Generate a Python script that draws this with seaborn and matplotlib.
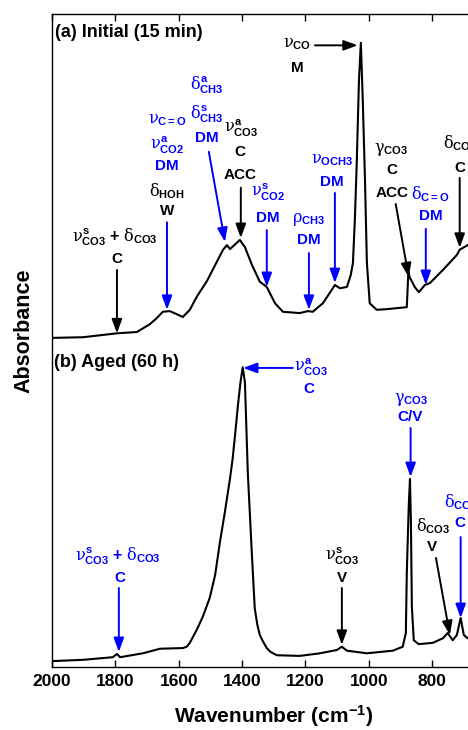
import matplotlib
matplotlib.use("Agg")
import matplotlib.pyplot as plt
import pandas as pd
import seaborn as sns

# ---- spectra (wavenumber in cm-1, absorbance in arbitrary units) ----
wavenumber_a = [2000, 1902, 1795, 1732, 1691, 1670, 1650, 1628, 1605, 1587,
                1565, 1543, 1511, 1460, 1448, 1438, 1407, 1391, 1369, 1344,
                1322, 1296, 1271, 1218, 1192, 1177, 1145, 1123, 1107, 1091,
                1069, 1057, 1050, 1044, 1038, 1031, 1025, 1019, 1012, 1006,
                997, 975, 943, 902, 880, 875, 871, 855, 842, 823,
                807, 766, 722, 713, 688, 650, 600]
absorbance_a = [0.014, 0.015, 0.021, 0.023, 0.035, 0.044, 0.054, 0.055, 0.050, 0.046,
                0.057, 0.077, 0.101, 0.149, 0.156, 0.150, 0.164, 0.153, 0.126, 0.100,
                0.092, 0.067, 0.054, 0.052, 0.055, 0.054, 0.067, 0.083, 0.095, 0.090,
                0.092, 0.110, 0.129, 0.195, 0.282, 0.409, 0.466, 0.378, 0.256, 0.129,
                0.067, 0.057, 0.058, 0.060, 0.061, 0.115, 0.107, 0.092, 0.084, 0.095,
                0.098, 0.118, 0.141, 0.149, 0.156, 0.165, 0.172]

wavenumber_b = [2000, 1902, 1808, 1795, 1785, 1713, 1659, 1587, 1575, 1565,
                1543, 1524, 1502, 1485, 1470, 1455, 1438, 1430, 1423, 1413,
                1405, 1398, 1391, 1382, 1369, 1360, 1352, 1344, 1335, 1322,
                1310, 1290, 1218, 1154, 1101, 1085, 1069, 1006, 924, 893,
                883, 880, 874, 870, 867, 864, 858, 848, 842, 798,
                766, 751, 735, 722, 710, 700, 688, 650, 600]
absorbance_b = [0.009, 0.011, 0.015, 0.020, 0.015, 0.021, 0.028, 0.029, 0.031, 0.037,
                0.057, 0.077, 0.106, 0.141, 0.191, 0.235, 0.289, 0.318, 0.351, 0.401,
                0.436, 0.459, 0.436, 0.299, 0.172, 0.090, 0.065, 0.049, 0.040, 0.029,
                0.023, 0.018, 0.017, 0.021, 0.026, 0.031, 0.025, 0.021, 0.025, 0.031,
                0.052, 0.144, 0.245, 0.288, 0.221, 0.092, 0.041, 0.037, 0.035, 0.037,
                0.044, 0.052, 0.041, 0.049, 0.075, 0.049, 0.044, 0.045, 0.045]

panel_titles = ["(a) Initial (15 min)", "(b) Aged (60 h)"]
x_ticks = [2000, 1800, 1600, 1400, 1200, 1000, 800]

# vertical shift that stacks spectrum (a) above spectrum (b)
OFFSET_A = 0.49

K = "black"
B = "#0000ff"

sns.set_style("ticks")
plt.rcParams.update({
    "font.family": ["Liberation Sans", "DejaVu Sans"],
    "font.weight": "bold",
    "mathtext.fontset": "custom",
    "mathtext.rm": "Liberation Sans:weight=normal",
    "mathtext.bf": "Liberation Sans:weight=bold",
    "mathtext.it": "DejaVu Serif:weight=normal",
    "axes.linewidth": 1.0,
    "axes.edgecolor": "black",
    "text.color": "black",
    "axes.labelcolor": "black",
    "xtick.color": "black",
    "ytick.color": "black",
})

df = pd.concat([
    pd.DataFrame({"wavenumber": wavenumber_a,
                  "signal": [v + OFFSET_A for v in absorbance_a],
                  "panel": "a"}),
    pd.DataFrame({"wavenumber": wavenumber_b,
                  "signal": absorbance_b,
                  "panel": "b"}),
], ignore_index=True)

fig = plt.figure(figsize=(4.68, 7.30), dpi=100)
# the frame runs past the right edge of the figure
ax = fig.add_axes([52 / 468, 1 - 667 / 730, 443.5 / 468, 653 / 730])

sns.lineplot(data=df, x="wavenumber", y="signal", units="panel",
             estimator=None, color="black", lw=1.5, legend=False, ax=ax)

ax.set_xlim(2000, 600)
ax.set_ylim(0, 1)
ax.set_xticks(x_ticks)
ax.set_xticklabels([str(t) for t in x_ticks])
ax.set_yticks([])
ax.tick_params(axis="x", direction="in", top=True, bottom=True,
               length=5, width=1, labelsize=12.5, pad=5)
for lab in ax.get_xticklabels():
    lab.set_fontweight("bold")
ax.set_xlabel("Wavenumber (cm$^{\\mathbf{-1}}$)", fontsize=15,
              fontweight="bold", labelpad=10)
ax.set_ylabel("")
fig.text(24 / 468, 1 - 331 / 730, "Absorbance", rotation=90,
         ha="center", va="center", fontsize=15.5, fontweight="bold")

ax.text(1991, 0.971, panel_titles[0], ha="left", va="center",
        fontsize=13, fontweight="bold")
ax.text(1994, 0.467, panel_titles[1], ha="left", va="center",
        fontsize=13, fontweight="bold")

# band assignments: (text, x, y, colour, horizontal alignment)
labels = [
    # (a)
    (r"$\nu_{\mathbf{CO}}$", 1227, 0.954, K, "center"),
    ("M", 1227, 0.918, K, "center"),
    (r"$\delta^{\mathbf{a}}_{\mathbf{CH3}}$", 1511, 0.891, B, "center"),
    (r"$\delta^{\mathbf{s}}_{\mathbf{CH3}}$", 1511, 0.847, B, "center"),
    ("DM", 1511, 0.810, B, "center"),
    (r"$\nu^{\mathbf{a}}_{\mathbf{CO3}}$", 1403, 0.825, K, "center"),
    ("C", 1407, 0.789, K, "center"),
    ("ACC", 1407, 0.753, K, "center"),
    (r"$\nu_{\mathbf{C{=}O}}$", 1637, 0.838, B, "center"),
    (r"$\nu^{\mathbf{a}}_{\mathbf{CO2}}$", 1637, 0.799, B, "center"),
    ("DM", 1637, 0.767, B, "center"),
    (r"$\delta_{\mathbf{HOH}}$", 1637, 0.729, K, "center"),
    ("W", 1637, 0.698, K, "center"),
    (r"$\nu^{\mathbf{s}}_{\mathbf{CO3}}$ + $\delta_{\mathbf{CO3}}$", 1801, 0.658, K, "center"),
    ("C", 1795, 0.625, K, "center"),
    (r"$\nu^{\mathbf{s}}_{\mathbf{CO2}}$", 1319, 0.727, B, "center"),
    ("DM", 1319, 0.688, B, "center"),
    (r"$\rho_{\mathbf{CH3}}$", 1189, 0.685, B, "center"),
    ("DM", 1189, 0.654, B, "center"),
    (r"$\nu_{\mathbf{OCH3}}$", 1117, 0.776, B, "center"),
    ("DM", 1117, 0.743, B, "center"),
    (r"$\gamma_{\mathbf{CO3}}$", 930, 0.793, K, "center"),
    ("C", 927, 0.761, K, "center"),
    ("ACC", 927, 0.726, K, "center"),
    (r"$\delta_{\mathbf{C{=}O}}$", 807, 0.724, B, "center"),
    ("DM", 804, 0.691, B, "center"),
    (r"$\delta_{\mathbf{CO3}}$", 713, 0.802, K, "center"),
    ("C", 713, 0.764, K, "center"),
    # (b)
    (r"$\nu^{\mathbf{a}}_{\mathbf{CO3}}$", 1236, 0.458, B, "left"),
    ("C", 1189, 0.426, B, "center"),
    (r"$\gamma_{\mathbf{CO3}}$", 867, 0.410, B, "center"),
    ("C/V", 870, 0.383, B, "center"),
    (r"$\delta_{\mathbf{CO3}}$", 710, 0.253, B, "center"),
    ("C", 713, 0.221, B, "center"),
    (r"$\delta_{\mathbf{CO3}}$", 798, 0.216, K, "center"),
    ("V", 801, 0.184, K, "center"),
    (r"$\nu^{\mathbf{s}}_{\mathbf{CO3}}$", 1085, 0.170, K, "center"),
    ("V", 1085, 0.136, K, "center"),
    (r"$\nu^{\mathbf{s}}_{\mathbf{CO3}}$ + $\delta_{\mathbf{CO3}}$", 1792, 0.170, B, "center"),
    ("C", 1785, 0.136, B, "center"),
]

# pointer arrows: (tail, tip, colour)
arrows = [
    ((1170, 0.952), (1035, 0.952), K),
    ((1505, 0.789), (1454, 0.651), B),
    ((1404, 0.734), (1404, 0.657), K),
    ((1637, 0.681), (1637, 0.547), B),
    ((1795, 0.608), (1795, 0.511), K),
    ((1322, 0.669), (1322, 0.582), B),
    ((1189, 0.634), (1189, 0.547), B),
    ((1107, 0.726), (1107, 0.588), B),
    ((915, 0.709), (874, 0.597), K),
    ((820, 0.671), (820, 0.585), B),
    ((713, 0.749), (713, 0.642), K),
    ((1240, 0.458), (1397, 0.458), B),
    ((868, 0.366), (868, 0.291), B),
    ((710, 0.199), (710, 0.075), B),
    ((788, 0.167), (744, 0.049), K),
    ((1085, 0.121), (1085, 0.034), K),
    ((1789, 0.121), (1789, 0.023), B),
]

for txt, x, y, col, ha in labels:
    size = 11.5 if txt.startswith("$") else 11
    ax.text(x, y, txt, color=col, ha=ha, va="center", fontsize=size,
            fontweight="bold")

for tail, tip, col in arrows:
    ax.annotate("", xy=tip, xytext=tail,
                arrowprops=dict(arrowstyle="-|>,head_length=0.6,head_width=0.22",
                                color=col, lw=1.4, shrinkA=0, shrinkB=0,
                                mutation_scale=14))

fig.savefig("out.png", dpi=100)
